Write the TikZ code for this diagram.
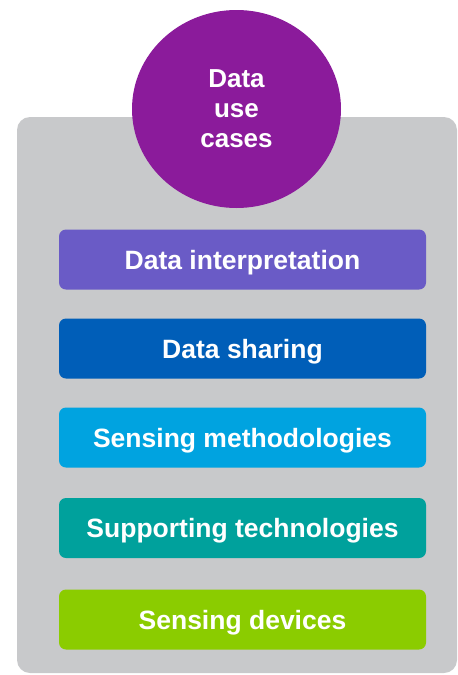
\documentclass[tikz,border=0pt]{standalone}
\usepackage{fontspec}
\setmainfont{Liberation Sans}
\usetikzlibrary{shapes.geometric}

\definecolor{usepurple}{HTML}{8B1B9B}
\definecolor{panelgray}{HTML}{C8C9CB}
\definecolor{interpcol}{HTML}{6A5BC6}
\definecolor{sharecol}{HTML}{005EB8}
\definecolor{methodcol}{HTML}{00A3E0}
\definecolor{techcol}{HTML}{00A19C}
\definecolor{devicecol}{HTML}{8BCC00}

\begin{document}
\begin{tikzpicture}[
    x=1pt, y=-1pt,
    panel/.style={rectangle, fill=panelgray, minimum width=440pt, minimum height=556pt, rounded corners=13pt},
    layer/.style={rectangle, text=white, font=\fontsize{26.5}{30}\selectfont\bfseries, text depth=0pt, minimum width=367pt, minimum height=60pt, rounded corners=7pt, inner sep=0pt},
    usecase/.style={ellipse, fill=usepurple, text=white, minimum width=209pt, minimum height=198pt, inner sep=0pt, align=center, font=\fontsize{26}{30}\selectfont\bfseries}
]
\useasboundingbox (0,0) rectangle (458,675);

% Grey background panel
\node[panel] (stack) at (237,395) {};

% Layers, top to bottom
\node[layer, fill=interpcol] (interp) at (242.5,259.5) {Data interpretation};
\node[layer, fill=sharecol] (sharing) at (242.5,348.5) {Data sharing};
\node[layer, fill=methodcol] (methods) at (242.5,437.5) {Sensing methodologies};
\node[layer, fill=techcol] (tech) at (242.5,528) {Supporting technologies};
\node[layer, fill=devicecol] (devices) at (242.5,619.5) {Sensing devices};

% Circle on top
\node[usecase] (usecases) at (236.5,109) {Data\\use\\cases};

\end{tikzpicture}
\end{document}
